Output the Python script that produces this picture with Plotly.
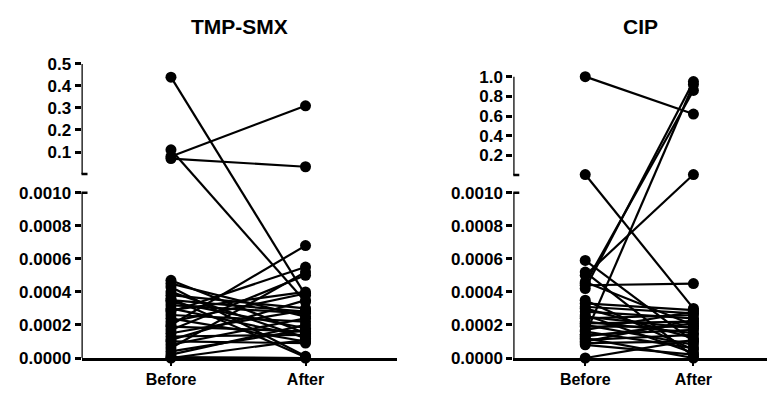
import plotly.graph_objects as go

# ---------------- data ----------------
categories = ["Before", "After"]

# TMP-SMX (values in original units)
tmp_before = [0.44, 0.11, 0.08, 0.07,
              0.00047, 0.00045, 0.00043, 0.00040, 0.00038, 0.00036, 0.00034,
              0.00032, 0.00030, 0.00028, 0.00026, 0.00024, 0.00022, 0.00020,
              0.00019, 0.00017, 0.00015, 0.00013, 0.00011, 0.00010, 0.00008,
              0.00006, 0.00004, 0.00002, 0.00000, 0.000005, 0.00029, 0.00035]
tmp_after = [0.00038, 0.00034, 0.31, 0.033,
             0.00015, 0.00025, 0.00001, 0.00012, 0.00030, 0.000005, 0.00018,
             0.00027, 0.00013, 0.00055, 0.00022, 0.00010, 0.00039, 0.00068,
             0.00016, 0.00050, 0.00029, 0.00014, 0.00035, 0.00009, 0.00024,
             0.00052, 0.00017, 0.00020, 0.00011, 0.00000, 0.00040, 0.00028]

# CIP
cip_before = [1.0, 0.005, 0.00050, 0.00042, 0.00014, 0.00045,
              0.00059, 0.00052, 0.00044, 0.00046, 0.00035, 0.00033, 0.00031,
              0.00030, 0.00028, 0.00026, 0.00024, 0.00022, 0.00021, 0.00020,
              0.00019, 0.00017, 0.00016, 0.00014, 0.00013, 0.00012, 0.00011,
              0.00010, 0.00009, 0.00008, 0.00000, 0.00025]
cip_after = [0.62, 0.00030, 0.005, 0.95, 0.92, 0.86,
             0.00010, 0.00001, 0.00045, 0.00020, 0.00005, 0.00029, 0.00027,
             0.00012, 0.00024, 0.00003, 0.00026, 0.00015, 0.00022, 0.00008,
             0.00019, 0.00028, 0.00006, 0.00017, 0.00021, 0.00000, 0.00014,
             0.00023, 0.00010, 0.00002, 0.00011, 0.00018]

lower_ticks = [0.0, 0.0002, 0.0004, 0.0006, 0.0008, 0.0010]
lower_tick_text = ["0.0000", "0.0002", "0.0004", "0.0006", "0.0008", "0.0010"]
tmp_upper_ticks = [0.1, 0.2, 0.3, 0.4, 0.5]
tmp_upper_text = ["0.1", "0.2", "0.3", "0.4", "0.5"]
cip_upper_ticks = [0.2, 0.4, 0.6, 0.8, 1.0]
cip_upper_text = ["0.2", "0.4", "0.6", "0.8", "1.0"]

# ---------------- broken-axis scale ----------------
LOW_MAX = 0.001
PX_PER_UNIT = 165.3          # pixels per lower-segment span
PLOT_TOP, PLOT_BOTTOM = 60, 358
Y_RANGE = [0, (PLOT_BOTTOM - PLOT_TOP) / PX_PER_UNIT]


def make_scale(up_lo, up_hi, up_max):
    def tf(v):
        if v <= LOW_MAX:
            return v / LOW_MAX
        return up_lo + v / up_max * (up_hi - up_lo)
    return tf


panels = [
    dict(name="TMP-SMX", before=tmp_before, after=tmp_after,
         up_ticks=tmp_upper_ticks, up_text=tmp_upper_text,
         up_lo=1.113, up_hi=1.779, up_max=0.5, dom=(81.5, 397)),
    dict(name="CIP", before=cip_before, after=cip_after,
         up_ticks=cip_upper_ticks, up_text=cip_upper_text,
         up_lo=1.107, up_hi=1.702, up_max=1.0, dom=(513.3, 767)),
]

W, H = 770, 405
X_RANGE = [-0.665, 1.68]
FONT = "Arial, Liberation Sans, Helvetica, sans-serif"

fig = go.Figure()
shapes = []
annotations = []

for i, p in enumerate(panels):
    sfx = "" if i == 0 else str(i + 1)
    xa, ya = "x" + sfx, "y" + sfx
    tf = make_scale(p["up_lo"], p["up_hi"], p["up_max"])

    xs, ys = [], []
    for b, a in zip(p["before"], p["after"]):
        xs += [0, 1, None]
        ys += [tf(b), tf(a), None]
    fig.add_trace(go.Scatter(
        x=xs, y=ys, mode="lines+markers", xaxis=xa, yaxis=ya,
        line=dict(color="black", width=2.2),
        marker=dict(color="black", size=11),
        cliponaxis=False, showlegend=False, hoverinfo="skip"))

    tickvals = [tf(v) for v in lower_ticks] + [tf(v) for v in p["up_ticks"]]
    ticktext = ["<b>%s</b>" % s for s in lower_tick_text + p["up_text"]]

    dom = [p["dom"][0] / W, p["dom"][1] / W]
    fig.layout["xaxis" + sfx] = dict(
        domain=dom, anchor=ya, range=X_RANGE,
        tickvals=[0, 1], ticktext=["<b>%s</b>" % c for c in categories],
        showline=True, linecolor="black", linewidth=2.5,
        ticks="outside", ticklen=5, tickwidth=2, tickcolor="black",
        showgrid=False, zeroline=False,
        tickfont=dict(family=FONT, size=16, color="black"))
    fig.layout["yaxis" + sfx] = dict(
        domain=[0, 1], anchor=xa, range=Y_RANGE,
        tickvals=tickvals, ticktext=ticktext,
        showline=False, ticks="outside", ticklen=6, tickwidth=2.5,
        tickcolor="black", showgrid=False, zeroline=False,
        tickfont=dict(family=FONT, size=17, color="black"))

    # broken y-axis segments
    for y0, y1 in [(0, 1), (p["up_lo"], p["up_hi"])]:
        shapes.append(dict(type="line", xref=xa, yref=ya,
                           x0=X_RANGE[0], x1=X_RANGE[0], y0=y0, y1=y1,
                           line=dict(color="black", width=2.5)))
    for yc in [1, p["up_lo"]]:
        shapes.append(dict(type="line", xref=xa, yref=ya, xsizemode="pixel",
                           xanchor=X_RANGE[0], x0=-6, x1=6, y0=yc, y1=yc,
                           line=dict(color="black", width=2.5)))

    annotations.append(dict(
        text="<b>%s</b>" % p["name"], xref="paper", yref="paper",
        x=(dom[0] + dom[1]) / 2, y=(PLOT_BOTTOM - 26) / (PLOT_BOTTOM - PLOT_TOP),
        xanchor="center", yanchor="middle", showarrow=False,
        font=dict(family=FONT, size=21, color="black")))

fig.update_layout(
    width=W, height=H,
    margin=dict(l=0, r=0, t=PLOT_TOP, b=H - PLOT_BOTTOM),
    plot_bgcolor="white", paper_bgcolor="white",
    shapes=shapes, annotations=annotations,
    font=dict(family=FONT, color="black"))

fig.write_html("out.html")
